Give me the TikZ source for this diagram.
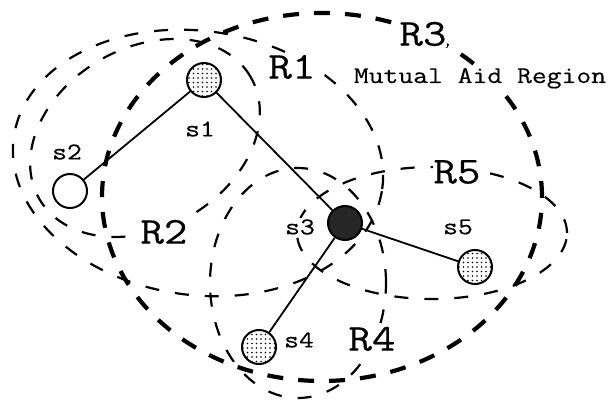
\documentclass[tikz,border=0pt]{standalone}
\usepackage{fontspec}
\setmonofont[FakeStretch=1.2, FakeBold=0.4]{Latin Modern Mono}
\usetikzlibrary{patterns}
\pgfdeclarepatternformonly{stipple}{\pgfqpoint{-1pt}{-1pt}}{\pgfqpoint{1pt}{1pt}}{\pgfqpoint{4.5pt}{4.5pt}}{\pgfpathcircle{\pgfqpoint{0pt}{0pt}}{0.8pt}\pgfusepath{fill}}
\begin{document}
\begin{tikzpicture}[x=1pt, y=1pt,
  region/.style={line width=2.2pt, dash pattern=on 14pt off 16pt},
  mutual/.style={line width=4.2pt, dash pattern=on 16pt off 15pt},
  station/.style={draw, circle, line width=2pt, minimum size=34pt, inner sep=0pt, fill=white},
  stippled/.style={station, postaction={pattern=stipple}},
  link/.style={line width=1.8pt},
  sname/.style={fill=white, inner sep=1pt, font=\ttfamily\fontsize{24}{28}\selectfont},
  rname/.style={fill=white, inner sep=1pt, font=\ttfamily\fontsize{38}{42}\selectfont}]
\useasboundingbox (0,0) rectangle (611,402);
\draw[mutual] (322,205) ellipse [x radius=220pt, y radius=184pt];
\draw[region] (198,239) ellipse [x radius=186pt, y radius=132pt, rotate=-8];
\draw[region] (145,264) ellipse [x radius=122pt, y radius=90pt, rotate=30];
\draw[region] (298,119) ellipse [x radius=88pt, y radius=115pt];
\draw[region] (432,169) ellipse [x radius=135pt, y radius=66pt];
\node[rname] (r1) at (292,335) {R1};
\node[rname] (r2) at (164,170) {R2};
\node[rname] (r3) at (423,368) {R3};
\node[sname, anchor=base] (aid) at (480,319) {Mutual Aid Region};
\node[rname] (r4) at (372,63) {R4};
\node[rname] (r5) at (457,230) {R5};
\node[stippled] (s1) at (204,322) {};
\node[station] (s2) at (70,211) {};
\node[station, fill=black!85] (s3) at (345,179) {};
\node[stippled] (s4) at (259,55) {};
\node[stippled] (s5) at (475,135) {};
\draw[link] (s1) -- (s2);
\draw[link] (s1) -- (s3);
\draw[link] (s3) -- (s4);
\draw[link] (s3) -- (s5);
\node[sname] (t1) at (200,273) {s1};
\node[sname] (t2) at (67,250) {s2};
\node[sname] (t3) at (300,175) {s3};
\node[sname] (t4) at (299,62) {s4};
\node[sname] (t5) at (458,175) {s5};
\end{tikzpicture}
\end{document}
